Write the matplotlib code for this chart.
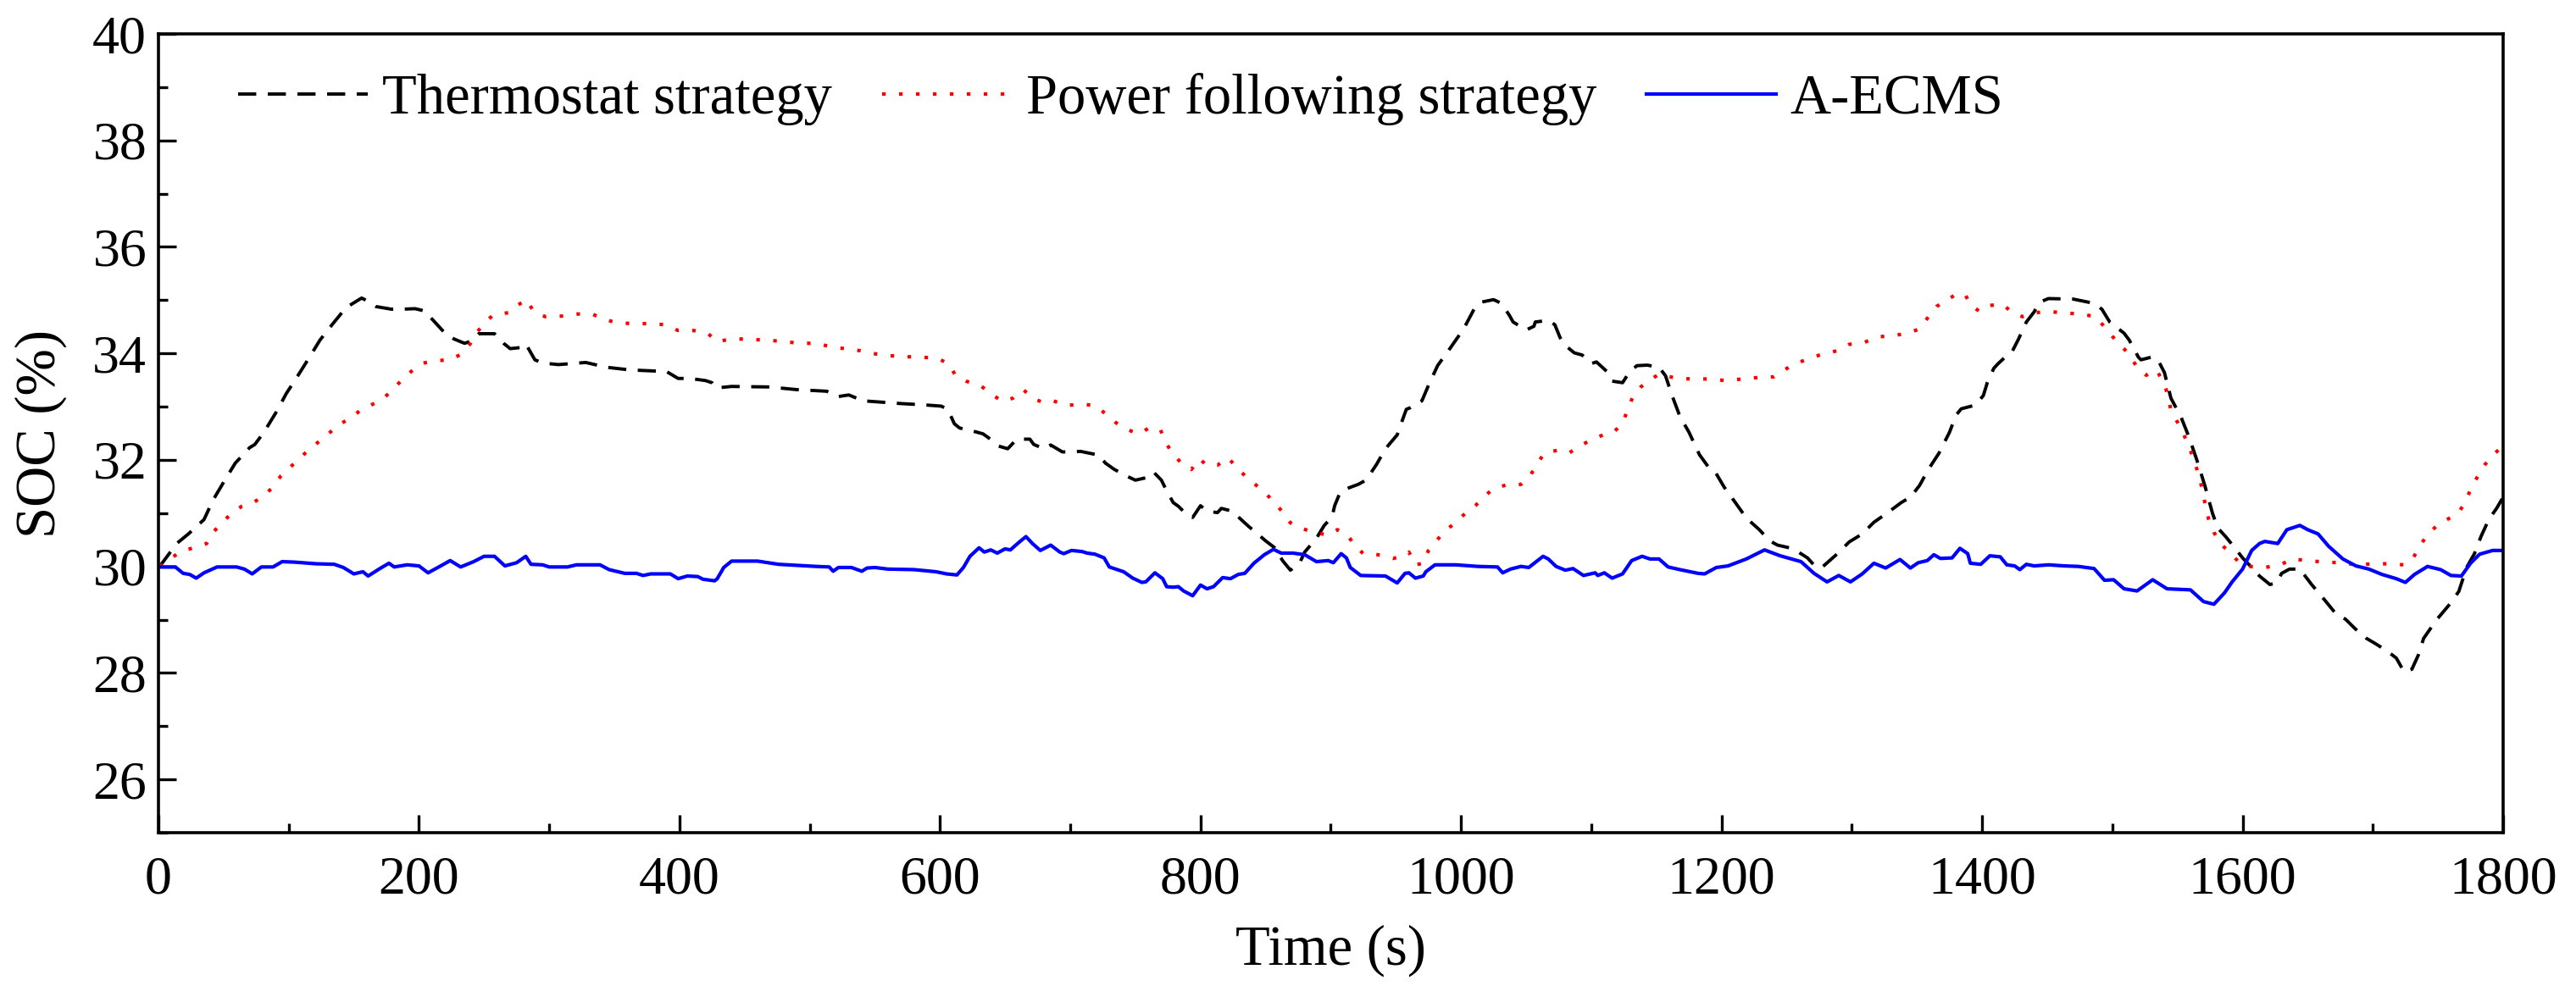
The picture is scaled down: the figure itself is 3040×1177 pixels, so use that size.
import matplotlib
matplotlib.use('Agg')
import matplotlib.pyplot as plt
from matplotlib.ticker import MultipleLocator

plt.rcParams['font.family'] = ['Liberation Serif', 'DejaVu Serif']

# Thermostat strategy
t_thermo = [1, 14, 23, 35, 42, 51, 59, 70, 74, 81, 91, 98, 107, 116, 124, 134, 144, 156, 160, 167,
            179, 186, 197, 204, 211, 220, 227, 235, 240, 246, 258, 265, 270, 278, 282, 286, 289, 295,
            307, 328, 344, 362, 390, 399, 408, 420, 425, 428, 440, 469, 490, 513, 522, 530, 541, 569,
            590, 601, 606, 611, 615, 627, 633, 641, 645, 652, 659, 669, 672, 680, 685, 694, 708, 722,
            727, 734, 743, 750, 759, 764, 770, 773, 779, 783, 790, 794, 800, 805, 813, 816, 824, 829,
            837, 841, 850, 857, 863, 869, 876, 880, 889, 895, 901, 903, 907, 911, 921, 927, 935, 942,
            951, 954, 958, 961, 970, 975, 982, 992, 1002, 1010, 1015, 1025, 1031, 1037, 1040, 1050,
            1056, 1057, 1067, 1072, 1076, 1079, 1087, 1093, 1100, 1104, 1112, 1116, 1124, 1129, 1135,
            1143, 1152, 1157, 1162, 1168, 1175, 1183, 1191, 1195, 1202, 1210, 1219, 1229, 1237, 1243,
            1252, 1259, 1266, 1272, 1277, 1289, 1298, 1308, 1317, 1327, 1338, 1345, 1352, 1359, 1367,
            1375, 1380, 1384, 1395, 1401, 1404, 1409, 1412, 1419, 1423, 1428, 1434, 1440, 1444, 1451,
            1470, 1474, 1486, 1492, 1498, 1509, 1513, 1520, 1522, 1530, 1535, 1540, 1542, 1545, 1553,
            1559, 1565, 1571, 1577, 1581, 1587, 1594, 1600, 1607, 1613, 1621, 1626, 1630, 1636, 1644,
            1653, 1663, 1672, 1679, 1686, 1695, 1702, 1711, 1718, 1724, 1730, 1735, 1739, 1749, 1759,
            1766, 1772, 1778, 1783, 1789, 1795, 1800]
soc_thermo = [30.0, 30.43, 30.61, 30.88, 31.25, 31.62, 31.94, 32.23, 32.29, 32.52, 32.92, 33.24, 33.58,
              33.93, 34.25, 34.56, 34.86, 35.04, 34.99, 34.88, 34.83, 34.83, 34.84, 34.80, 34.62, 34.38,
              34.27, 34.19, 34.23, 34.37, 34.37, 34.19, 34.09, 34.11, 34.18, 34.01, 33.88, 33.82, 33.79,
              33.83, 33.74, 33.69, 33.66, 33.53, 33.53, 33.49, 33.45, 33.35, 33.38, 33.37, 33.32, 33.29,
              33.19, 33.22, 33.11, 33.06, 33.03, 33.01, 32.95, 32.68, 32.60, 32.53, 32.49, 32.35, 32.26,
              32.21, 32.39, 32.39, 32.29, 32.21, 32.28, 32.15, 32.16, 32.09, 31.94, 31.82, 31.70, 31.62,
              31.67, 31.77, 31.62, 31.47, 31.20, 31.13, 30.96, 30.92, 31.14, 31.04, 31.01, 31.09, 31.04,
              30.93, 30.75, 30.67, 30.48, 30.35, 30.11, 29.93, 30.06, 30.27, 30.53, 30.77, 30.93, 31.14,
              31.38, 31.45, 31.54, 31.62, 31.91, 32.21, 32.47, 32.68, 32.95, 32.98, 33.11, 33.40, 33.77,
              34.11, 34.46, 34.83, 34.96, 35.01, 34.94, 34.72, 34.59, 34.44, 34.51, 34.59, 34.62, 34.54,
              34.30, 34.17, 34.01, 33.97, 33.81, 33.84, 33.66, 33.48, 33.45, 33.64, 33.77, 33.78, 33.74,
              33.58, 33.21, 32.82, 32.52, 32.10, 31.83, 31.78, 31.49, 31.22, 30.91, 30.69, 30.48, 30.40,
              30.35, 30.27, 30.16, 30.00, 29.98, 30.24, 30.46, 30.61, 30.83, 31.00, 31.20, 31.30, 31.52,
              31.83, 32.13, 32.52, 32.84, 32.96, 33.03, 33.21, 33.45, 33.72, 33.80, 33.96, 34.03, 34.27,
              34.59, 34.78, 34.96, 35.03, 35.02, 35.00, 34.94, 34.83, 34.59, 34.38, 34.25, 33.93, 33.88,
              33.93, 33.88, 33.64, 33.45, 33.16, 32.79, 32.42, 31.99, 31.52, 30.99, 30.72, 30.56, 30.35,
              30.16, 29.98, 29.82, 29.66, 29.69, 29.87, 29.95, 29.95, 29.66, 29.37, 29.10, 29.01, 28.84,
              28.65, 28.55, 28.41, 28.28, 28.02, 28.07, 28.34, 28.65, 29.00, 29.29, 29.53, 29.98, 30.24,
              30.56, 30.88, 31.09, 31.30]

# Power following strategy
t_power = [1, 9, 17, 27, 37, 42, 49, 56, 64, 73, 81, 88, 94, 101, 108, 115, 123, 131, 138, 146, 155,
           164, 172, 180, 186, 194, 202, 211, 224, 232, 239, 245, 251, 257, 270, 276, 283, 288, 297,
           309, 322, 333, 343, 354, 366, 376, 389, 399, 411, 422, 429, 439, 451, 464, 478, 492, 505,
           517, 527, 539, 548, 560, 572, 585, 598, 607, 612, 620, 632, 639, 648, 656, 664, 671, 679,
           687, 697, 708, 719, 727, 735, 743, 752, 760, 769, 773, 778, 785, 793, 799, 805, 813, 821,
           828, 835, 843, 850, 857, 863, 869, 877, 887, 898, 905, 913, 918, 925, 936, 948, 954, 960,
           965, 971, 975, 981, 988, 996, 1003, 1011, 1018, 1025, 1036, 1046, 1053, 1058, 1064, 1074,
           1083, 1092, 1100, 1109, 1117, 1124, 1128, 1132, 1138, 1145, 1152, 1166, 1178, 1191, 1203,
           1216, 1229, 1240, 1248, 1258, 1268, 1279, 1289, 1298, 1310, 1319, 1331, 1343, 1352, 1358,
           1365, 1373, 1380, 1387, 1391, 1398, 1405, 1416, 1423, 1431, 1440, 1450, 1463, 1476, 1487,
           1494, 1500, 1507, 1513, 1519, 1526, 1534, 1540, 1543, 1545, 1550, 1555, 1559, 1563, 1566,
           1569, 1571, 1574, 1578, 1583, 1591, 1598, 1605, 1617, 1629, 1638, 1650, 1663, 1675, 1688,
           1700, 1711, 1724, 1731, 1736, 1742, 1749, 1757, 1766, 1771, 1775, 1780, 1786, 1792, 1800]
soc_power = [30.0, 30.14, 30.28, 30.35, 30.43, 30.64, 30.83, 30.99, 31.13, 31.20, 31.33, 31.49, 31.70,
             31.86, 32.02, 32.18, 32.34, 32.50, 32.66, 32.76, 32.93, 33.04, 33.14, 33.32, 33.48, 33.66,
             33.81, 33.86, 33.88, 33.98, 34.17, 34.41, 34.59, 34.72, 34.77, 34.91, 35.01, 34.78, 34.69,
             34.70, 34.74, 34.74, 34.63, 34.57, 34.56, 34.56, 34.54, 34.43, 34.43, 34.37, 34.22, 34.27,
             34.27, 34.25, 34.23, 34.19, 34.19, 34.12, 34.09, 34.05, 34.00, 33.96, 33.94, 33.93, 33.91,
             33.80, 33.58, 33.48, 33.38, 33.24, 33.10, 33.16, 33.32, 33.16, 33.08, 33.11, 33.02, 33.05,
             33.02, 32.87, 32.70, 32.58, 32.49, 32.59, 32.58, 32.35, 32.13, 31.95, 31.82, 32.02, 31.90,
             31.90, 32.04, 31.86, 31.68, 31.52, 31.37, 31.20, 31.02, 30.82, 30.72, 30.64, 30.59, 30.69,
             30.59, 30.40, 30.24, 30.22, 30.15, 30.19, 30.27, 30.03, 30.06, 30.30, 30.48, 30.67, 30.83,
             30.99, 31.14, 31.32, 31.46, 31.54, 31.54, 31.70, 31.91, 32.13, 32.18, 32.13, 32.28, 32.37,
             32.47, 32.52, 32.68, 32.95, 33.19, 33.37, 33.50, 33.61, 33.53, 33.52, 33.52, 33.49, 33.52,
             33.55, 33.56, 33.69, 33.82, 33.91, 34.00, 34.05, 34.17, 34.21, 34.31, 34.33, 34.38, 34.46,
             34.66, 34.88, 35.00, 35.11, 35.11, 34.91, 34.79, 34.90, 34.92, 34.77, 34.69, 34.76, 34.79,
             34.76, 34.74, 34.69, 34.50, 34.32, 34.14, 33.98, 33.74, 33.59, 33.69, 33.42, 33.19, 32.92,
             32.71, 32.47, 32.23, 31.99, 31.73, 31.46, 31.20, 30.88, 30.64, 30.43, 30.24, 30.06, 30.00,
             29.98, 30.03, 30.14, 30.11, 30.08, 30.07, 30.03, 30.05, 30.05, 30.03, 30.16, 30.38, 30.60,
             30.76, 30.88, 31.01, 31.22, 31.44, 31.67, 31.91, 32.09, 32.26]

# A-ECMS
t_aecms = [1, 13, 19, 24, 29, 35, 45, 60, 66, 72, 79, 88, 95, 105, 121, 135, 142, 150, 157, 161, 170,
           177, 181, 191, 200, 207, 216, 224, 232, 242, 250, 258, 266, 275, 282, 286, 295, 300, 314,
           321, 339, 346, 358, 367, 372, 378, 393, 399, 406, 414, 418, 427, 429, 434, 440, 460, 476,
           491, 505, 515, 518, 522, 532, 540, 544, 550, 560, 580, 597, 605, 613, 618, 623, 630, 634,
           639, 644, 650, 654, 661, 666, 671, 677, 685, 692, 695, 701, 709, 713, 719, 726, 730, 741,
           748, 755, 758, 765, 771, 774, 779, 783, 787, 794, 800, 805, 810, 817, 823, 829, 834, 841,
           849, 856, 862, 871, 880, 889, 898, 902, 908, 912, 915, 923, 942, 951, 957, 960, 965, 971,
           973, 980, 996, 1013, 1028, 1032, 1038, 1046, 1052, 1063, 1067, 1073, 1080, 1086, 1094,
           1103, 1105, 1110, 1116, 1124, 1131, 1139, 1145, 1152, 1159, 1168, 1182, 1187, 1196, 1205,
           1219, 1233, 1245, 1261, 1271, 1281, 1290, 1299, 1308, 1317, 1326, 1337, 1345, 1351, 1358,
           1363, 1368, 1377, 1383, 1389, 1391, 1399, 1406, 1414, 1419, 1425, 1429, 1434, 1440, 1451,
           1463, 1474, 1486, 1494, 1501, 1509, 1519, 1531, 1542, 1560, 1570, 1578, 1586, 1592, 1600,
           1607, 1613, 1617, 1627, 1634, 1644, 1650, 1658, 1666, 1677, 1687, 1697, 1707, 1718, 1725,
           1732, 1742, 1752, 1760, 1768, 1775, 1782, 1792, 1800]
soc_aecms = [29.99, 29.99, 29.87, 29.85, 29.78, 29.88, 29.99, 29.99, 29.95, 29.86, 29.99, 29.99, 30.09,
             30.08, 30.05, 30.04, 29.98, 29.86, 29.90, 29.82, 29.96, 30.06, 29.99, 30.03, 30.01, 29.88,
             30.00, 30.11, 29.99, 30.09, 30.19, 30.19, 30.01, 30.07, 30.19, 30.04, 30.03, 29.99, 29.99,
             30.03, 30.03, 29.94, 29.87, 29.87, 29.83, 29.86, 29.86, 29.77, 29.82, 29.81, 29.76, 29.73,
             29.77, 29.98, 30.10, 30.10, 30.04, 30.02, 30.00, 29.99, 29.91, 29.98, 29.98, 29.91, 29.97,
             29.98, 29.95, 29.94, 29.90, 29.86, 29.84, 29.98, 30.19, 30.35, 30.27, 30.31, 30.25, 30.33,
             30.31, 30.46, 30.56, 30.43, 30.30, 30.40, 30.27, 30.24, 30.30, 30.28, 30.25, 30.23, 30.16,
             29.99, 29.90, 29.78, 29.70, 29.71, 29.88, 29.77, 29.62, 29.61, 29.62, 29.54, 29.45, 29.65,
             29.58, 29.62, 29.79, 29.77, 29.85, 29.87, 30.06, 30.22, 30.32, 30.25, 30.25, 30.22, 30.09,
             30.11, 30.07, 30.24, 30.16, 29.98, 29.83, 29.82, 29.69, 29.87, 29.88, 29.78, 29.82, 29.90,
             30.03, 30.03, 30.00, 29.99, 29.88, 29.95, 30.00, 29.98, 30.19, 30.14, 30.00, 29.93, 29.96,
             29.83, 29.88, 29.83, 29.88, 29.78, 29.86, 30.11, 30.19, 30.14, 30.14, 29.99, 29.94, 29.87,
             29.86, 29.98, 30.01, 30.14, 30.31, 30.20, 30.09, 29.87, 29.71, 29.83, 29.71, 29.86, 30.06,
             29.97, 30.13, 29.97, 30.07, 30.11, 30.22, 30.15, 30.16, 30.34, 30.24, 30.06, 30.04, 30.20,
             30.18, 30.03, 30.01, 29.94, 30.04, 30.01, 30.03, 30.01, 30.00, 29.96, 29.74, 29.75, 29.58,
             29.54, 29.75, 29.58, 29.56, 29.34, 29.29, 29.50, 29.71, 29.95, 30.30, 30.43, 30.47, 30.43,
             30.69, 30.77, 30.69, 30.61, 30.38, 30.14, 30.01, 29.95, 29.85, 29.77, 29.70, 29.85, 30.00,
             29.94, 29.83, 29.82, 30.06, 30.23, 30.30, 30.30]

fig = plt.figure(figsize=(15.2, 5.885), dpi=200)
ax = fig.add_axes([0.0615, 0.1648, 0.9102, 0.8012])

ax.plot(t_thermo, soc_thermo, color='black', lw=1.4, ls=(0, (5.5, 3.5)), label='Thermostat strategy')
ax.plot(t_power, soc_power, color='red', lw=1.5, ls=(0, (1, 3.8)), label='Power following strategy')
ax.plot(t_aecms, soc_aecms, color='blue', lw=1.5, label='A-ECMS')

ax.set_xlim(0, 1800)
ax.set_ylim(25, 40)
ax.xaxis.set_major_locator(MultipleLocator(200))
ax.xaxis.set_minor_locator(MultipleLocator(100))
ax.yaxis.set_minor_locator(MultipleLocator(1))
ax.set_yticks([26, 28, 30, 32, 34, 36, 38, 40])

ax.tick_params(which='both', direction='in', top=False, right=False, width=1.2)
ax.tick_params(which='major', length=7.5, labelsize=23)
ax.tick_params(axis='x', which='major', pad=10)
ax.tick_params(axis='y', which='major', pad=5)
ax.tick_params(which='minor', length=4)
for sp in ax.spines.values():
    sp.set_linewidth(1.3)

ax.set_xlabel('Time (s)', fontsize=24)
ax.set_ylabel('SOC (%)', fontsize=24)
ax.xaxis.set_label_coords(0.5, -0.115)
ax.yaxis.set_label_coords(-0.039, 0.5)

ax.legend(loc='center left', bbox_to_anchor=(0.034, 0.918), ncol=3, frameon=False,
          fontsize=24, handlelength=2.3, handletextpad=0.25, columnspacing=0.88,
          borderpad=0, borderaxespad=0)

fig.savefig('out.png', dpi=200)
